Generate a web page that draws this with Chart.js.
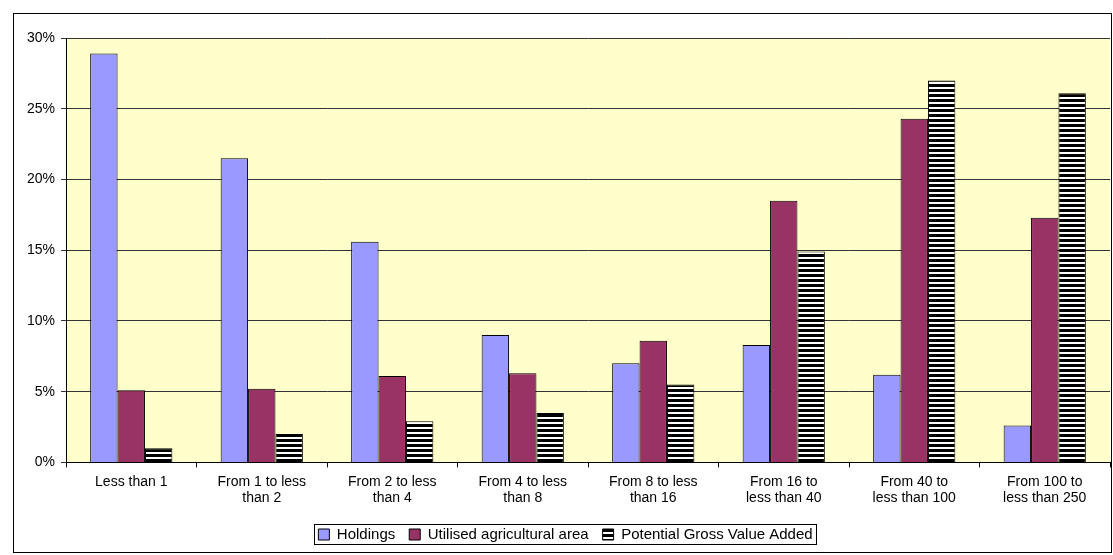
<!DOCTYPE html><html><head><script src="https://cdn.jsdelivr.net/npm/chart.js@4"></script>
<style>body{margin:0;background:#fff}#w{position:absolute;left:13px;top:13px;width:1099px;height:540px;border:1px solid #000;box-sizing:border-box}</style></head><body>
<div id="w"><canvas id="c"></canvas></div>
<script>
const categories=[["Less than 1"],["From 1 to less","than 2"],["From 2 to less","than 4"],["From 4 to less","than 8"],["From 8 to less","than 16"],["From 16 to","less than 40"],["From 40 to","less than 100"],["From 100 to","less than 250"]];
const holdings=[28.9,21.5,15.6,9.0,7.0,8.3,6.2,2.6];
const uaa=[5.1,5.2,6.1,6.3,8.6,18.5,24.3,17.3];
const gva=[1.0,2.0,2.9,3.5,5.5,14.9,27.0,26.1];
const pc=document.createElement('canvas');pc.width=4;pc.height=5;const px=pc.getContext('2d');
px.fillStyle='#000';px.fillRect(0,0,4,5);px.fillStyle='#fff';px.fillRect(0,3,4,2);
const pat=document.getElementById('c').getContext('2d').createPattern(pc,'repeat');
Chart.defaults.font.family='Liberation Sans, Arial';Chart.defaults.font.size=14;Chart.defaults.color='#000';
new Chart(document.getElementById('c'),{type:'bar',data:{labels:categories,datasets:[
{label:'Holdings',data:holdings,backgroundColor:'#9999ff',borderColor:'#000',borderWidth:1},
{label:'Utilised agricultural area',data:uaa,backgroundColor:'#993366',borderColor:'#000',borderWidth:1},
{label:'Potential Gross Value Added',data:gva,backgroundColor:pat,borderColor:'#000',borderWidth:1}]},
options:{responsive:true,maintainAspectRatio:false,animation:false,
layout:{padding:{left:7,right:1,top:24,bottom:0}},
datasets:{bar:{categoryPercentage:0.63,barPercentage:1}},
plugins:{tooltip:{enabled:false},legend:{position:'bottom',labels:{boxWidth:11,boxHeight:11,padding:14,font:{size:15}}}},
scales:{x:{grid:{display:true,drawOnChartArea:false,color:'#000',offset:true,tickLength:5},border:{color:'#000'},ticks:{maxRotation:0,padding:6,font:{size:14}}},
y:{min:0,max:30,ticks:{stepSize:5,padding:6,callback:v=>v+'%',font:{size:14}},grid:{color:'#333',tickLength:5},border:{color:'#000'}}}},
plugins:[{id:'bg',beforeDraw(ch){const a=ch.chartArea,x=ch.ctx;x.save();x.fillStyle='#ffffcc';x.fillRect(a.left,a.top,a.right-a.left,a.bottom-a.top);x.restore();},
afterDraw(ch){const l=ch.legend,x=ch.ctx;x.save();x.strokeStyle='#000';x.lineWidth=1;const hb=l.legendHitBoxes;const L=hb[0].left-4,R=hb[hb.length-1].left+hb[hb.length-1].width+4;x.strokeRect(Math.round(L)+.5,Math.round(hb[0].top-3)+.5,Math.round(R-L),Math.round(hb[0].height+5));x.restore();}}]});
</script></body></html>
